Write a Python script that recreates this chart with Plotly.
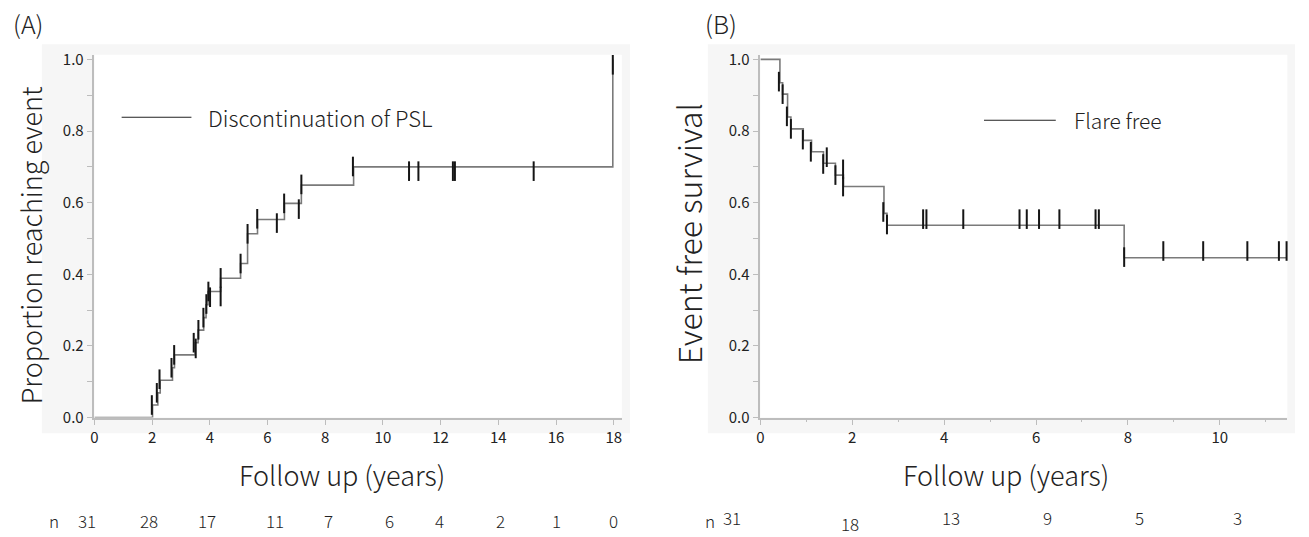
import plotly.graph_objects as go

# ---------------- data ----------------
# Panel A: proportion reaching event (discontinuation of PSL)
a_step_t = [0, 2.015, 2.198, 2.281, 2.706, 2.775, 3.490, 3.594, 3.787, 3.870, 3.939, 4.375, 5.066, 5.308,
            5.653, 6.586, 7.173, 8.984, 17.968]
a_step_p = [0, 0.035, 0.069, 0.104, 0.139, 0.175, 0.209, 0.244, 0.279, 0.315, 0.352, 0.389, 0.430, 0.513,
            0.553, 0.598, 0.649, 0.700, 1.0]
a_cens_t = [1.990, 2.163, 2.256, 2.671, 2.764, 3.442, 3.511, 3.604, 3.777, 3.880, 3.950, 4.008, 4.375, 4.375,
            5.066, 5.308, 5.643, 6.323, 6.576, 7.084, 7.173, 8.960, 10.905, 11.230, 12.426, 12.495, 15.225, 17.968]
a_cens_p = [0.035, 0.069, 0.107, 0.139, 0.175, 0.209, 0.193, 0.245, 0.279, 0.317, 0.352, 0.336, 0.338, 0.390,
            0.430, 0.513, 0.555, 0.543, 0.598, 0.582, 0.651, 0.701, 0.688, 0.688, 0.688, 0.688, 0.688, 0.985]
a_risk_t = [0, 2, 4, 6, 8, 10, 12, 14, 16, 18]
a_risk_n = [31, 28, 17, 11, 7, 6, 4, 2, 1, 0]

# Panel B: event free survival (flare free)
b_step_t = [0, 0.425, 0.484, 0.592, 0.664, 0.933, 1.113, 1.373, 1.633, 1.807, 2.690, 2.755, 7.918, 11.453]
b_step_s = [1.0, 0.935, 0.903, 0.839, 0.806, 0.774, 0.742, 0.710, 0.677, 0.645, 0.570, 0.537, 0.446, 0.446]
b_cens_t = [0.403, 0.484, 0.577, 0.664, 0.924, 1.098, 1.367, 1.445, 1.633, 1.800, 1.800, 2.675, 2.755,
            3.542, 3.614, 4.416, 5.640, 5.798, 6.065, 6.508, 7.295, 7.367, 7.918, 8.770, 9.638, 10.599,
            11.286, 11.453]
b_cens_s = [0.938, 0.903, 0.841, 0.806, 0.776, 0.742, 0.708, 0.727, 0.677, 0.693, 0.645, 0.574, 0.539,
            0.554, 0.554, 0.554, 0.554, 0.554, 0.554, 0.554, 0.554, 0.554, 0.448, 0.465, 0.465, 0.465,
            0.465, 0.465]
b_risk_t = [0, 2, 4, 6, 8, 10]
b_risk_n = [31, 18, 13, 9, 5, 3]
b_minor_t = [1, 3, 5, 7, 9, 11]

y_tickvals = [0, 0.1, 0.2, 0.3, 0.4, 0.5, 0.6, 0.7, 0.8, 0.9, 1.0]
y_ticktext = ["0.0", "", "0.2", "", "0.4", "", "0.6", "", "0.8", "", "1.0"]

# ---------------- layout helpers ----------------
W, H = 1309, 537
FONT = "Noto Sans CJK JP"
TXT = "#222222"
# the captured page is slightly taller than the figure: compensate so the picture lands where intended
def fx(px):
    return (px - 2) / W
def fy(py):
    return 1 - ((py - 8.75) / 0.97) / H

A_X0, A_X1 = 92.7, 621.7
B_X0, B_X1 = 760.7, 1289.3
P_TOP, P_BOT = 56.5, 419.2

fig = go.Figure()

curve_style = dict(color="#7a7a7a", width=1.6, shape="hv")
tick_marker = dict(symbol="line-ns", size=14, line=dict(width=2, color="#151515"))

fig.add_trace(go.Scatter(x=a_step_t, y=a_step_p, mode="lines", line=curve_style,
                         xaxis="x", yaxis="y", showlegend=False, hoverinfo="skip"))
fig.add_trace(go.Scatter(x=a_cens_t, y=a_cens_p, mode="markers", marker=tick_marker,
                         xaxis="x", yaxis="y", showlegend=False, cliponaxis=False))
fig.add_trace(go.Scatter(x=b_step_t, y=b_step_s, mode="lines", line=curve_style,
                         xaxis="x2", yaxis="y2", showlegend=False, hoverinfo="skip"))
fig.add_trace(go.Scatter(x=b_cens_t, y=b_cens_s, mode="markers", marker=tick_marker,
                         xaxis="x2", yaxis="y2", showlegend=False, cliponaxis=False))

axis_common = dict(showgrid=False, zeroline=False, showline=True, linecolor="#bdbdbd", linewidth=1.5,
                   ticks="outside", tickcolor="#bdbdbd", tickwidth=1.2, ticklen=6,
                   tickfont=dict(family=FONT, size=15, color=TXT), layer="above traces")

fig.update_layout(
    width=W, height=H,
    margin=dict(l=0, r=0, t=0, b=0),
    paper_bgcolor="white", plot_bgcolor="rgba(0,0,0,0)",
    xaxis=dict(domain=[fx(A_X0), fx(A_X1)], range=[0, 18.28], tickvals=a_risk_t, anchor="y", **axis_common),
    yaxis=dict(domain=[fy(P_BOT), fy(P_TOP)], range=[0, 1.013], tickvals=y_tickvals, ticktext=y_ticktext,
               anchor="x", **axis_common),
    xaxis2=dict(domain=[fx(B_X0), fx(B_X1)], range=[0, 11.47], tickvals=b_risk_t, anchor="y2",
                minor=dict(tickvals=b_minor_t, ticklen=3, tickcolor="#bdbdbd", ticks="outside"),
                **axis_common),
    yaxis2=dict(domain=[fy(P_BOT), fy(P_TOP)], range=[0, 1.013], tickvals=y_tickvals, ticktext=y_ticktext,
                anchor="x2", **axis_common),
)

shapes = []
# light grey frames and white plot areas
for gx0, gx1, px0, px1 in [(40, 630, A_X0, A_X1), (708, 1297, B_X0, B_X1)]:
    shapes.append(dict(type="rect", xref="paper", yref="paper", x0=fx(gx0), x1=fx(gx1), y0=fy(435), y1=fy(46),
                       fillcolor="#f6f6f6", line=dict(width=0), layer="below"))
    shapes.append(dict(type="rect", xref="paper", yref="paper", x0=fx(px0), x1=fx(px1), y0=fy(P_BOT), y1=fy(P_TOP),
                       fillcolor="white", line=dict(width=0), layer="below"))
# legend lines
shapes.append(dict(type="line", xref="paper", yref="paper", x0=fx(120), x1=fx(190), y0=fy(119), y1=fy(119),
                   line=dict(color="#222222", width=1.2)))
shapes.append(dict(type="line", xref="paper", yref="paper", x0=fx(985), x1=fx(1057), y0=fy(122), y1=fy(122),
                   line=dict(color="#222222", width=1.2)))
fig.update_layout(shapes=shapes)

ann = []
def text(x, y, s, size, xanchor="center", yanchor="middle", angle=0, xref="paper", yref="paper", xshift=0):
    ann.append(dict(x=x, y=y, xref=xref, yref=yref, text=s, showarrow=False, xanchor=xanchor, yanchor=yanchor,
                    textangle=angle, xshift=xshift, font=dict(family=FONT, size=size, color=TXT, weight=300)))

text(fx(9), fy(25), "(A)", 25, xanchor="left")
text(fx(703), fy(25), "(B)", 25, xanchor="left")
text(fx(28), fy(247), "Proportion reaching event", 27, angle=-90)
text(fx(688), fy(235), "Event free survival", 32, angle=-90)
text(fx(341), fy(476), "Follow up (years)", 27)
text(fx(1007), fy(476), "Follow up (years)", 27)
text(fx(205), fy(119), "Discontinuation of PSL", 22, xanchor="left")
text(fx(1073), fy(122), "Flare free", 21, xanchor="left")

a_shift = [-7, -3, -3, 7, 3, 7, -1, 2, 0, 0]
b_shift = [-28, -2, 7, 11, 12, 18]
text(fx(52), fy(522), "n", 17)
for t, n, s in zip(a_risk_t, a_risk_n, a_shift):
    text(t, fy(522), str(n), 17, xref="x", xshift=s)
text(fx(710), fy(522), "n", 17)
for t, n, s in zip(b_risk_t, b_risk_n, b_shift):
    text(t, fy(525 if n == 18 else 519), str(n), 17, xref="x2", xshift=s)

fig.update_layout(annotations=ann)
fig.write_html("out.html", config={"displayModeBar": False},
               post_script="document.body.style.margin='0';document.body.style.padding='0';"
                           "document.documentElement.style.overflow='hidden';")
